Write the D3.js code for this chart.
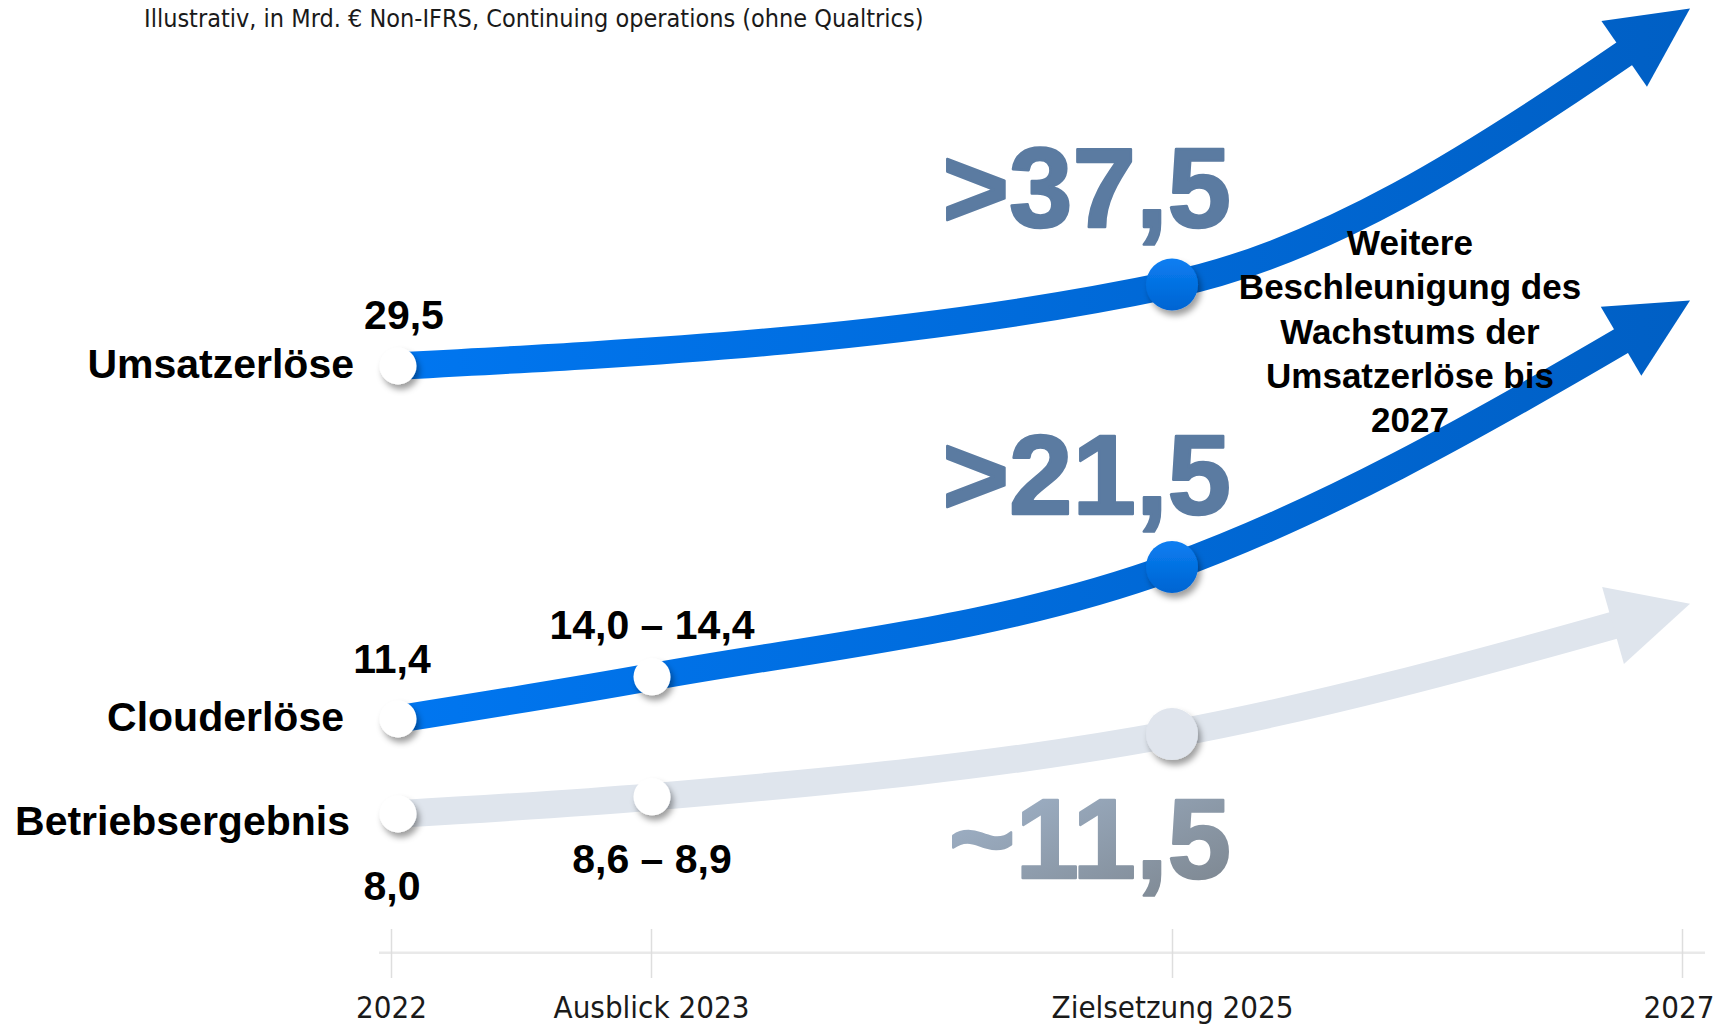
<!DOCTYPE html>
<html><head><meta charset="utf-8">
<script src="https://cdn.jsdelivr.net/npm/d3@7"></script>
<style>html,body{margin:0;padding:0;background:#fff;overflow:hidden}</style>
</head><body><svg id="chart" width="1716" height="1027"></svg>
<script>
// ---------- data ----------
const years = [2022, 2023, 2025, 2027];
const tickLabels = ["2022", "Ausblick 2023", "Zielsetzung 2025", "2027"];
const seriesNames = ["Umsatzerlöse", "Clouderlöse", "Betriebsergebnis"];
// illustrative values (2027 = unlabeled arrow end)
const umsatzValues = [29.5, null, 37.5, 64.6];
const cloudValues = [11.4, 14.2, 21.5, 39.2];
const betriebValues = [8.0, 8.75, 11.5, 17.2];
const umsatzLabels = ["29,5", null, ">37,5"];
const cloudLabels = ["11,4", "14,0 – 14,4", ">21,5"];
const betriebLabels = ["8,0", "8,6 – 8,9", "~11,5"];
const subtitle = "Illustrativ, in Mrd. € Non-IFRS, Continuing operations (ohne Qualtrics)";
const noteLines = ["Weitere", "Beschleunigung des", "Wachstums der", "Umsatzerlöse bis", "2027"];

// ---------- layout ----------
const svg = d3.select("#chart");
const BOLD = "'Liberation Sans', Arial, sans-serif";
const NARROW = "'Liberation Sans Narrow', 'DejaVu Sans Condensed', sans-serif";

const xAxisScale = d3.scaleLinear().domain(years).range([391, 651, 1172, 1682]);
const xLine = d3.scaleLinear().domain(years).range([398, 652, 1172, 1690]);

const defs = svg.append("defs");
const bg = defs.append("linearGradient").attr("id", "blueGrad")
  .attr("gradientUnits", "userSpaceOnUse").attr("x1", 398).attr("x2", 1700).attr("y1", 0).attr("y2", 0);
bg.append("stop").attr("offset", 0).attr("stop-color", "#0076f0");
bg.append("stop").attr("offset", 1).attr("stop-color", "#005fc4");
const bd = defs.append("linearGradient").attr("id", "blueDot").attr("x1", 0).attr("y1", 0).attr("x2", 0).attr("y2", 1);
bd.append("stop").attr("offset", 0).attr("stop-color", "#0a7ef2");
bd.append("stop").attr("offset", 1).attr("stop-color", "#0064d2");
const tg = defs.append("linearGradient").attr("id", "tildeGrad").attr("x1", 0).attr("y1", 0).attr("x2", 1).attr("y2", 1);
tg.append("stop").attr("offset", 0).attr("stop-color", "#a4b8d0");
tg.append("stop").attr("offset", 1).attr("stop-color", "#7b848d");
const f = defs.append("filter").attr("id", "shadow").attr("x", "-50%").attr("y", "-50%").attr("width", "200%").attr("height", "200%");
f.append("feDropShadow").attr("dx", 3).attr("dy", 5).attr("stdDeviation", 3)
  .attr("flood-color", "#000").attr("flood-opacity", 0.38);

const series = [
  { name: seriesNames[0], values: umsatzValues, labels: umsatzLabels, yRange: [366, 284.5],
    stroke: "url(#blueGrad)", bigDot: "url(#blueDot)", bigFill: "#5b7ba1",
    nameDx: -44, nameDy: 12, smallDx: 6, smallDy: [-37, 0], bigDy: -58 },
  { name: seriesNames[1], values: cloudValues, labels: cloudLabels, yRange: [719, 567],
    stroke: "url(#blueGrad)", bigDot: "url(#blueDot)", bigFill: "#5b7ba1",
    nameDx: -54, nameDy: 12, smallDx: -6, smallDy: [-46, -38], bigDy: -53 },
  { name: seriesNames[2], values: betriebValues, labels: betriebLabels, yRange: [814, 734],
    stroke: "#dfe5ed", bigDot: "#e0e5ed", bigFill: "url(#tildeGrad)",
    nameDx: -48, nameDy: 21, smallDx: -6, smallDy: [86, 76], bigDy: 144 }
];
series.forEach(s => {
  s.y = d3.scaleLinear().domain([s.values[0], s.values[2]]).range(s.yRange);
  s.pts = years.map((yr, i) => ({ yr, v: s.values[i], i })).filter(d => d.v != null);
});

// ---------- axis ----------
const axisY = 952.7;
svg.append("line").attr("x1", 379).attr("x2", 1705).attr("y1", axisY).attr("y2", axisY)
  .attr("stroke", "#e9e9e9").attr("stroke-width", 2.5);
const axisG = svg.append("g").attr("transform", `translate(0,929)`)
  .call(d3.axisBottom(xAxisScale).tickValues(years).tickFormat((d, i) => tickLabels[i])
    .tickSize(49).tickPadding(0));
axisG.select(".domain").remove();
axisG.selectAll(".tick line").attr("stroke", "#dedede").attr("stroke-width", 1.5);
axisG.selectAll(".tick text").attr("y", 89).attr("dy", 0)
  .style("font-family", NARROW).style("font-size", "31px").attr("fill", "#1a1a1a");
// last label flush with the right edge
axisG.selectAll(".tick text").filter((d, i) => i === years.length - 1)
  .attr("text-anchor", "end").attr("x", 1714 - xAxisScale(years[years.length - 1]));

// ---------- subtitle ----------
svg.append("text").attr("x", 144).attr("y", 26.5).text(subtitle)
  .style("font-family", NARROW).style("font-size", "25px").attr("fill", "#1a1a1a");

// ---------- lines with arrows ----------
const line = d3.line().x(d => xLine(d.yr)).curve(d3.curveMonotoneX);
const HEAD_LEN = 80, HEAD_HALF = 40;
series.slice().reverse().forEach(s => {
  const g = svg.append("g");
  const p = g.append("path").datum(s.pts)
    .attr("d", line.y(d => s.y(d.v)))
    .attr("fill", "none").attr("stroke", s.stroke).attr("stroke-width", 27.5);
  const node = p.node();
  const L = node.getTotalLength();
  const tip = node.getPointAtLength(L);
  const base = node.getPointAtLength(L - HEAD_LEN);
  p.attr("stroke-dasharray", `${L - HEAD_LEN + 3} ${L + 10}`);
  const dx = tip.x - base.x, dy = tip.y - base.y, len = Math.hypot(dx, dy);
  const nx = -dy / len, ny = dx / len;
  g.append("path")
    .attr("d", `M${tip.x},${tip.y}L${base.x + nx * HEAD_HALF},${base.y + ny * HEAD_HALF}L${base.x - nx * HEAD_HALF},${base.y - ny * HEAD_HALF}Z`)
    .attr("fill", s.stroke);
});

// ---------- dots ----------
series.forEach(s => {
  s.pts.filter(d => d.yr !== 2027).forEach(d => {
    const big = d.yr === 2025;
    svg.append("circle").attr("cx", xLine(d.yr)).attr("cy", s.y(d.v))
      .attr("r", big ? 26 : 18.5)
      .attr("fill", big ? s.bigDot : "#ffffff")
      .attr("filter", "url(#shadow)");
  });
});

// ---------- labels ----------
series.forEach(s => {
  svg.append("text").attr("x", xLine(2022) + s.nameDx).attr("y", s.y(s.values[0]) + s.nameDy)
    .attr("text-anchor", "end").text(s.name)
    .style("font-family", BOLD).style("font-weight", 700).style("font-size", "41px").attr("fill", "#000");
  [0, 1].forEach(i => {
    if (s.labels[i] == null) return;
    const yr = years[i];
    svg.append("text").attr("x", xLine(yr) + (i === 0 ? s.smallDx : 0))
      .attr("y", s.y(s.values[i]) + s.smallDy[i])
      .attr("text-anchor", "middle").text(s.labels[i])
      .style("font-family", BOLD).style("font-weight", 700).style("font-size", "41px").attr("fill", "#000");
  });
  svg.append("text").attr("x", xLine(2025) + 59).attr("y", s.y(s.values[2]) + s.bigDy)
    .attr("text-anchor", "end").text(s.labels[2])
    .style("font-family", BOLD).style("font-weight", 700).style("font-size", "114px")
    .attr("fill", s.bigFill).attr("stroke", s.bigFill).attr("stroke-width", 2.5)
    .attr("stroke-linejoin", "round");
});

// ---------- annotation ----------
const note = svg.append("text").attr("text-anchor", "middle")
  .style("font-family", BOLD).style("font-weight", 700).style("font-size", "35px").attr("fill", "#000");
noteLines.forEach((t, i) => {
  note.append("tspan").attr("x", 1410).attr("y", 255 + i * 44.3).text(t);
});
</script></body></html>
